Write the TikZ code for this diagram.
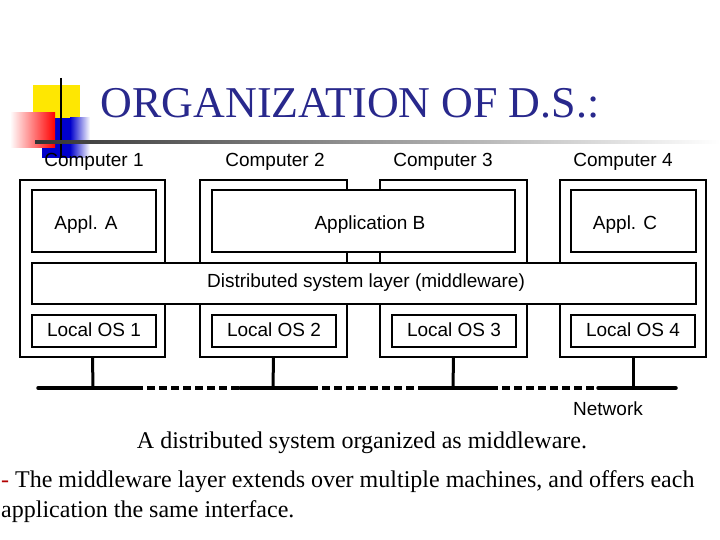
\documentclass[tikz,border=0pt]{standalone}
\usepackage{fontspec}
\setmainfont{Liberation Serif}
\newfontfamily\arial{Liberation Sans}
\definecolor{titleblue}{RGB}{40,40,140}
\begin{document}
\begin{tikzpicture}[x=1pt,y=-1pt,
  outer/.style={draw,line width=2pt},
  inner/.style={draw,line width=1.2pt,fill=white},
  lbl/.style={font=\arial\fontsize{19}{22}\selectfont},
  captxt/.style={font=\fontsize{24}{28}\selectfont,anchor=west,inner sep=0}]
\useasboundingbox (0,0) rectangle (720,540);
% logo
\fill[yellow!90!orange] (33,85) rectangle (80,135);
\fill[blue!80!black] (42,118) rectangle (70,158);
\shade[right color=white,left color=blue!80!black] (70,118) rectangle (90,158);
\shade[left color=white,right color=red] (10,113) rectangle (55,148);
\draw[line width=1.8pt] (61,78) -- (61,158);
\shade[left color=black!80, right color=white] (35,141) rectangle (720,143.5);
\node[text=titleblue,font=\fontsize{44}{50}\selectfont] (title) at (350,103) {ORGANIZATION OF D.S.:};
% computers
\foreach \n/\a/\b in {c1/20/165,c2/200/347,c3/380/527,c4/560/706}{
  \draw[outer] (\a,180) rectangle (\b,357);
  \node[coordinate] (\n) at ({(\a+\b)/2},357) {};
}
\node[lbl] (l1) at (94,162) {Computer 1};
\node[lbl] (l2) at (275,162) {Computer 2};
\node[lbl] (l3) at (443,162) {Computer 3};
\node[lbl] (l4) at (623,162) {Computer 4};
\draw[inner] (32,190) rectangle (156,252);
\node[lbl] (aa) at (86,225) {Appl. A};
\draw[inner] (212,190) rectangle (515,252);
\node[lbl] (ab) at (370,225) {Application B};
\draw[inner] (571,190) rectangle (696,252);
\node[lbl] (ac) at (625,225) {Appl. C};
\draw[inner] (32,263) rectangle (696,304);
\node[lbl] (mw) at (366,283) {Distributed system layer (middleware)};
\foreach \a/\t in {32/1,212/2,392/3,571/4}{
  \draw[inner] (\a,315) rectangle (\a+124,347);
  \node[lbl] (os\t) at (\a+62,330) {Local OS \t};
}
% network
\foreach \n/\x in {c1/93,c2/273,c3/453,c4/633}{
  \coordinate (b\n) at (\x,388);
  \draw[line width=3pt] (\n) -- (b\n);
}
\coordinate (n0) at (38,388);\coordinate (n1) at (135,388);
\coordinate (n2) at (240,388);\coordinate (n3) at (310,388);
\coordinate (n4) at (420,388);\coordinate (n5) at (490,388);
\coordinate (n6) at (598,388);\coordinate (n7) at (676,388);
\draw[line width=3.5pt,line cap=round] (n0)--(n1) (n2)--(n3) (n4)--(n5) (n6)--(n7);
\draw[line width=3.5pt,dash pattern=on 8pt off 4pt] (n1)--(n2) (n3)--(n4) (n5)--(n6);
\node[lbl] (net) at (608,409) {Network};
% caption
\node[font=\fontsize{24}{28}\selectfont] (c1t) at (362,443) {A distributed system organized as middleware.};
\node[captxt] (c2t) at (1,482) {{\color{red!70!black}-} The middleware layer extends over multiple machines, and offers each};
\node[captxt] (c3t) at (1,512) {application the same interface.};
\end{tikzpicture}
\end{document}
